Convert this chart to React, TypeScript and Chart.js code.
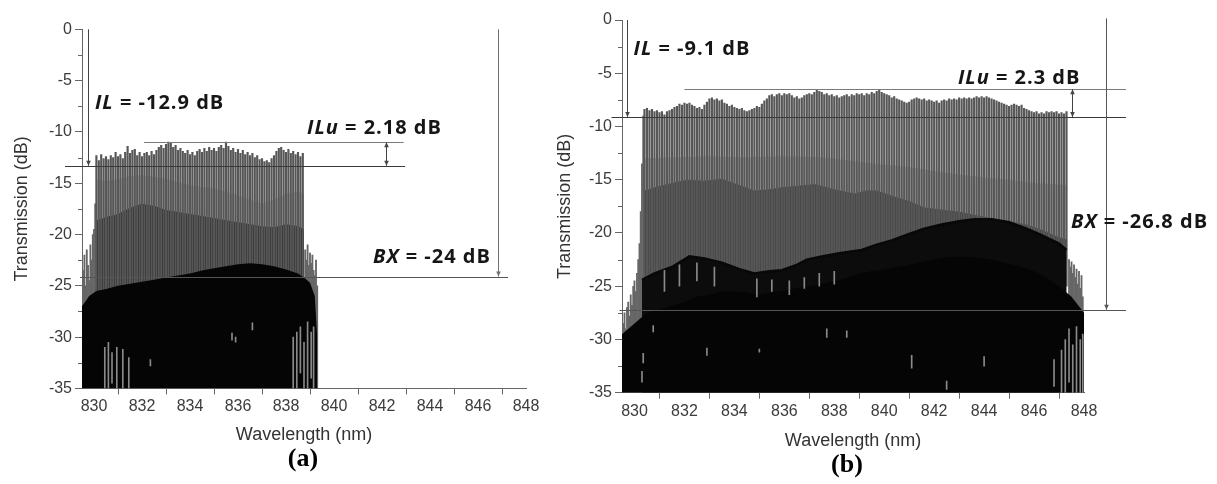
import React, { useEffect, useRef } from 'react';
import { Chart, registerables } from 'chart.js';

Chart.register(...registerables);

// ---------------- shared axis data ----------------
const xTickValues = [830, 832, 834, 836, 838, 840, 842, 844, 846, 848];
const yTickValues = [0, -5, -10, -15, -20, -25, -30, -35];
const xMinorValues = [831, 833, 835, 837, 839, 841, 843, 845, 847];
const yMinorValues = [-2.5, -7.5, -12.5, -17.5, -22.5, -27.5, -32.5];
const X_MIN = 829.5;
const X_MAX = 848;
const Y_MIN = -35;
const Y_MAX = 0;

// ---------------- panel (a) data ----------------
const peakStartA = 830.1;
const peakStepA = 0.1;
const peaksA = [
  -12.3, -12.8, -12.2, -12.6, -12.4, -12.7, -12.3, -12.5, -12.0, -12.4,
  -12.2, -12.6, -12.0, -11.4, -12.1, -11.8, -11.7, -12.3, -12.0, -12.4,
  -12.1, -12.0, -12.3, -11.9, -12.2, -11.8, -11.5, -11.3, -11.6, -11.2,
  -11.0, -11.1, -11.5, -11.3, -11.8, -11.6, -11.9, -12.1, -11.8, -12.2,
  -12.0, -12.3, -11.9, -11.7, -12.0, -11.6, -11.9, -11.5, -11.8, -11.6,
  -11.9, -11.5, -11.3, -11.6, -11.0, -11.4, -11.8, -11.6, -12.0, -11.7,
  -12.1, -11.8, -12.2, -12.0, -12.3, -12.1, -12.5, -12.3, -12.7, -12.6,
  -12.9, -12.8, -13.0, -12.6, -12.3, -11.9, -11.6, -11.5, -11.8, -12.0,
  -11.7, -12.1, -11.9, -12.2, -12.0, -12.4, -12.1,
];
const leftEdgeA: [number, number][] = [
  [829.55, -23.5], [829.6, -22.0], [829.65, -25.0], [829.7, -21.5], [829.75, -23.0],
  [829.8, -24.5], [829.85, -21.0], [829.9, -22.5], [829.95, -20.0], [830.0, -19.5], [830.05, -17.0],
];
const rightEdgeA: [number, number][] = [
  [838.8, -21.5], [838.85, -22.5], [838.9, -21.0], [838.95, -23.0], [839.0, -21.8],
  [839.05, -22.8], [839.1, -22.0], [839.15, -23.5], [839.2, -24.0], [839.25, -22.5], [839.3, -25.0],
];
const lightTopA: [number, number][] = [
  [830.1, -14.6], [830.5, -14.8], [831.0, -14.6], [831.5, -14.3], [832.0, -14.2], [832.5, -14.4],
  [833.0, -14.6], [833.5, -14.9], [834.0, -15.2], [834.5, -15.4], [835.0, -15.5], [835.5, -15.8],
  [836.0, -16.2], [836.5, -16.6], [837.0, -17.0], [837.5, -16.6], [838.0, -16.0], [838.5, -15.8], [838.75, -16.0],
];
const darkTopA: [number, number][] = [
  [830.1, -18.6], [830.5, -18.3], [831.0, -18.0], [831.5, -17.4], [832.0, -17.0], [832.5, -17.2],
  [833.0, -17.6], [833.5, -17.8], [834.0, -18.0], [834.5, -18.2], [835.0, -18.4], [835.5, -18.6],
  [836.0, -18.8], [836.5, -19.0], [837.0, -19.2], [837.5, -19.3], [838.0, -19.0], [838.5, -19.2], [838.75, -19.5],
];
const floorA: [number, number][] = [
  [829.5, -27.0], [829.8, -26.0], [830.1, -25.5], [830.5, -25.3], [831.0, -25.0], [831.5, -24.8],
  [832.0, -24.6], [832.5, -24.4], [833.0, -24.2], [833.5, -24.0], [834.0, -23.8], [834.5, -23.5],
  [835.0, -23.3], [835.5, -23.1], [836.0, -22.9], [836.5, -22.8], [837.0, -22.9], [837.5, -23.1],
  [838.0, -23.4], [838.5, -23.8], [838.8, -24.3], [839.0, -24.7], [839.2, -26.0], [839.3, -30.0],
];
const specksA: [number, number, number][] = [
  [830.45, -35, -31.0], [830.6, -35, -30.5], [830.75, -34.5, -31.5], [830.95, -35, -31.0],
  [831.2, -35, -31.2], [831.45, -35, -32.0], [832.35, -32.8, -32.2], [835.75, -30.3, -29.6],
  [835.9, -30.5, -30.0], [836.6, -29.3, -28.6], [838.3, -35, -30.0], [838.45, -35, -29.5],
  [838.6, -33.5, -29.0], [838.75, -35, -30.5], [838.9, -35, -28.5], [839.05, -34, -29.5], [839.15, -35, -29.0],
];
const ilLevelA = -13.3;
const iluLevelA = -11.0;
const bxLevelA = -24.1;

// ---------------- panel (b) data ----------------
const peakStartB = 830.4;
const peakStepB = 0.1;
const peaksB = [
  -8.4, -8.3, -8.5, -8.4, -8.6, -8.5, -8.7, -8.6, -8.9, -8.6,
  -8.5, -8.4, -8.2, -8.1, -7.9, -8.0, -7.8, -7.9, -7.8, -8.0,
  -8.1, -8.3, -8.2, -8.4, -8.0, -7.7, -7.4, -7.3, -7.5, -7.4,
  -7.6, -7.5, -7.8, -7.9, -8.1, -8.0, -8.2, -8.3, -8.4, -8.3,
  -8.5, -8.6, -8.5, -8.4, -8.3, -8.1, -8.2, -7.9, -7.6, -7.4,
  -7.1, -7.0, -7.2, -7.0, -6.9, -7.1, -6.9, -7.0, -6.9, -7.1,
  -7.3, -7.2, -7.4, -7.3, -7.1, -7.0, -6.9, -7.0, -6.8, -6.6,
  -6.7, -6.8, -7.0, -6.9, -7.1, -7.0, -7.2, -7.1, -7.3, -7.2,
  -7.1, -7.0, -7.2, -7.0, -7.1, -6.9, -7.0, -6.9, -7.1, -6.9,
  -7.0, -6.8, -6.9, -6.7, -6.6, -6.8, -6.9, -7.0, -7.1, -7.3,
  -7.2, -7.4, -7.5, -7.6, -7.7, -7.8, -7.7, -7.5, -7.4, -7.3,
  -7.4, -7.5, -7.4, -7.6, -7.5, -7.6, -7.7, -7.6, -7.8, -7.6,
  -7.5, -7.6, -7.4, -7.5, -7.4, -7.5, -7.3, -7.4, -7.3, -7.4,
  -7.3, -7.4, -7.3, -7.2, -7.3, -7.2, -7.3, -7.2, -7.3, -7.4,
  -7.5, -7.6, -7.7, -7.8, -7.9, -8.0, -8.1, -8.0, -7.9, -8.0,
  -8.1, -8.0, -8.3, -8.4, -8.5, -8.6, -8.7, -8.6, -8.8, -8.7,
  -8.8, -8.6, -8.7, -8.6, -8.7, -8.6, -8.8, -8.7, -8.8, -8.6,
];
const leftEdgeB: [number, number][] = [
  [829.55, -28.5], [829.6, -27.5], [829.65, -29.0], [829.7, -27.0], [829.75, -26.5], [829.8, -27.8],
  [829.85, -25.8], [829.9, -26.8], [829.95, -25.0], [830.0, -24.5], [830.05, -25.5], [830.1, -23.8],
  [830.15, -22.5], [830.2, -21.0], [830.25, -18.0], [830.3, -13.5], [830.35, -9.0],
];
const rightEdgeB: [number, number][] = [
  [847.4, -22.5], [847.45, -23.2], [847.5, -22.7], [847.55, -23.8], [847.6, -23.0], [847.65, -24.2],
  [847.7, -23.4], [847.75, -24.8], [847.8, -23.6], [847.85, -25.2], [847.9, -24.0], [847.95, -26.0],
];
const lightTopB: [number, number][] = [
  [830.4, -13.0], [831.5, -12.9], [833.0, -12.8], [834.5, -12.9], [836.0, -12.8], [837.5, -12.9],
  [839.0, -13.3], [840.0, -13.6], [841.0, -13.8], [842.0, -14.2], [843.0, -14.5], [844.0, -14.8],
  [845.0, -15.0], [846.0, -15.3], [847.3, -15.5],
];
const darkTopB: [number, number][] = [
  [830.4, -16.0], [831.0, -15.6], [831.5, -15.3], [832.1, -15.0], [832.8, -15.1], [833.5, -14.9],
  [834.2, -15.5], [834.8, -16.0], [835.4, -15.9], [835.9, -15.7], [836.5, -15.6], [837.2, -15.4],
  [838.0, -15.9], [838.8, -16.3], [839.3, -16.0], [839.7, -16.0], [840.3, -16.5], [841.0, -17.0],
  [841.6, -17.6], [842.3, -17.8], [843.0, -18.0], [843.6, -18.3], [844.3, -18.6], [845.0, -18.9],
  [845.7, -19.2], [846.3, -19.7], [847.0, -20.4], [847.3, -20.6],
];
const streakB: [number, number][] = [
  [830.3, -24.4], [830.8, -23.8], [831.5, -23.2], [832.2, -22.2], [832.8, -22.4], [833.5, -22.8],
  [834.2, -23.4], [834.8, -23.8], [835.4, -23.6], [835.9, -23.5], [836.5, -23.0], [836.9, -22.5],
  [837.5, -22.2], [838.2, -21.9], [839.1, -21.6], [839.7, -21.1], [840.3, -20.7], [841.0, -20.1],
  [841.6, -19.6], [842.3, -19.2], [843.0, -18.9], [843.6, -18.7], [844.3, -18.7], [845.0, -19.0],
  [845.7, -19.6], [846.3, -20.2], [847.0, -21.0], [847.3, -21.6],
];
const floorB: [number, number][] = [
  [829.5, -29.5], [830.0, -28.5], [830.5, -27.5], [831.0, -27.2], [831.5, -26.8], [832.0, -26.5],
  [832.5, -26.0], [833.0, -25.8], [833.5, -25.5], [834.0, -25.5], [834.5, -25.6], [835.0, -25.8],
  [835.5, -25.6], [836.0, -25.4], [836.5, -25.2], [837.0, -25.0], [837.5, -24.8], [838.0, -24.5],
  [838.5, -24.2], [839.0, -23.8], [839.5, -23.6], [840.0, -23.4], [840.5, -23.2], [841.0, -23.0],
  [841.5, -22.7], [842.0, -22.5], [842.5, -22.3], [843.0, -22.2], [843.5, -22.3], [844.0, -22.4],
  [844.5, -22.6], [845.0, -22.9], [845.5, -23.2], [846.0, -23.6], [846.5, -24.2], [847.0, -25.0],
  [847.5, -26.0], [848.0, -27.5],
];
const specksB: [number, number, number][] = [
  [830.3, -34.0, -33.0], [830.35, -32.2, -31.3], [830.75, -29.3, -28.7], [832.9, -31.5, -30.8],
  [835.0, -31.2, -30.9], [837.7, -29.8, -29.0], [838.5, -29.8, -29.2], [841.1, -32.7, -31.5],
  [842.5, -34.7, -33.9], [844.0, -32.5, -31.6], [846.8, -34.4, -31.9], [847.1, -35, -31.0],
  [847.25, -35, -30.0], [847.4, -34, -29.0], [847.55, -35, -30.5], [847.7, -35, -28.8],
  [847.85, -35, -30.0], [847.95, -35, -29.5], [834.9, -26.0, -24.3], [835.5, -25.5, -24.4],
  [836.2, -25.8, -24.5], [836.8, -25.2, -24.2], [837.4, -25.0, -23.8], [838.0, -24.8, -23.6],
  [831.2, -25.5, -23.5], [831.8, -25.0, -23.0], [832.5, -24.5, -22.8], [833.2, -25.0, -23.2],
];
const ilLevelB = -9.1;
const iluLevelB = -6.5;
const bxLevelB = -27.2;

// ---------------- styles / layout ----------------
const ANNOT_FONT = "'Open Sans', 'DejaVu Sans', sans-serif";
const AXIS_FONT = "'Liberation Sans', Arial, sans-serif";

const panelA = {
  peaks: peaksA, peakStart: peakStartA, peakStep: peakStepA,
  leftEdge: leftEdgeA, rightEdge: rightEdgeA,
  lightTop: lightTopA, darkTop: darkTopA, streak: null as null | [number, number][], floor: floorA, specks: specksA,
  style: {
    canvasLeft: 0, canvasWidth: 560, padTop: 29.3, padRight: 34, yAxisWidth: 82, xAxisHeight: 95.6,
    yTitlePad: 11.2, xTitlePad: 38.2, lightColor: '#c6c6c6', darkColor: '#141414', combColor: '#575757',
    combBase: -26, label: '(a)', labelDx: -1, labelY: 459,
  },
  annot: {
    lines: [
      { x1: 828.79, y1: ilLevelA, x2: 842.96, y2: ilLevelA, color: '#3a3a3a' },
      { x1: 832.08, y1: iluLevelA, x2: 842.9, y2: iluLevelA, color: '#7a7a7a' },
      { x1: 829.42, y1: bxLevelA, x2: 847.25, y2: bxLevelA, color: '#555555' },
    ],
    arrows: [
      { x: 829.75, y1: 0, y2: ilLevelA, color: '#444444', both: false },
      { x: 846.83, y1: 0, y2: bxLevelA, color: '#707070', both: false },
      { x: 842.17, y1: iluLevelA, y2: ilLevelA, color: '#444444', both: true },
    ],
    texts: [
      { x: 830.04, y: -7.18, italic: 'IL', rest: ' = -12.9 dB' },
      { x: 838.875, y: -9.62, italic: 'ILu', rest: ' = 2.18 dB' },
      { x: 841.625, y: -22.19, italic: 'BX', rest: ' = -24 dB' },
    ],
  },
};

const panelB = {
  peaks: peaksB, peakStart: peakStartB, peakStep: peakStepB,
  leftEdge: leftEdgeB, rightEdge: rightEdgeB,
  lightTop: lightTopB, darkTop: darkTopB, streak: streakB, floor: floorB, specks: specksB,
  style: {
    canvasLeft: 540, canvasWidth: 677, padTop: 20, padRight: 133, yAxisWidth: 82, xAxisHeight: 91.3,
    yTitlePad: 14.2, xTitlePad: 32.2, lightColor: '#c4c4c4', darkColor: '#3a3a3a', combColor: '#575757',
    combBase: -25, label: '(b)', labelDx: -6, labelY: 465,
  },
  annot: {
    lines: [
      { x1: 829.08, y1: ilLevelB, x2: 849.68, y2: ilLevelB, color: '#3a3a3a' },
      { x1: 832.0, y1: iluLevelB, x2: 849.68, y2: iluLevelB, color: '#7a7a7a' },
      { x1: 829.4, y1: bxLevelB, x2: 849.68, y2: bxLevelB, color: '#555555' },
    ],
    arrows: [
      { x: 829.7, y1: 0, y2: ilLevelB, color: '#444444', both: false },
      { x: 848.9, y1: 0.15, y2: bxLevelB, color: '#555555', both: false },
      { x: 847.5, y1: iluLevelB, y2: ilLevelB, color: '#444444', both: true },
    ],
    texts: [
      { x: 829.96, y: -2.72, italic: 'IL', rest: ' = -9.1 dB' },
      { x: 842.95, y: -5.45, italic: 'ILu', rest: ' = 2.3 dB' },
      { x: 847.48, y: -18.97, italic: 'BX', rest: ' = -26.8 dB' },
    ],
  },
};

// ---------------- plugin: minor ticks, annotations, panel label ----------------
const annotPlugin = {
  id: 'annot',
  afterDraw(chart: any, _args: any, opts: any) {
    const { ctx, chartArea } = chart;
    const xs = chart.scales.x;
    const ys = chart.scales.y;
    const X = (v: number) => xs.getPixelForValue(v);
    const Y = (v: number) => ys.getPixelForValue(v);
    const crisp = (p: number) => Math.round(p) + 0.5;
    ctx.save();
    // minor ticks
    ctx.strokeStyle = '#666666';
    ctx.lineWidth = 1;
    ctx.beginPath();
    for (const v of xMinorValues) {
      const px = crisp(X(v));
      ctx.moveTo(px, chartArea.bottom);
      ctx.lineTo(px, chartArea.bottom + 3.5);
    }
    for (const v of yMinorValues) {
      const py = crisp(Y(v));
      ctx.moveTo(chartArea.left - 4, py);
      ctx.lineTo(chartArea.left, py);
    }
    ctx.stroke();

    // lines
    for (const l of opts.lines) {
      ctx.strokeStyle = l.color;
      ctx.beginPath();
      ctx.moveTo(X(l.x1), crisp(Y(l.y1)));
      ctx.lineTo(X(l.x2), crisp(Y(l.y2)));
      ctx.stroke();
    }
    // arrows
    const head = (x: number, y: number, dir: number, color: string) => {
      ctx.fillStyle = color;
      ctx.beginPath();
      ctx.moveTo(x, y);
      ctx.lineTo(x - 2.3, y - dir * 5);
      ctx.lineTo(x + 2.3, y - dir * 5);
      ctx.closePath();
      ctx.fill();
    };
    for (const a of opts.arrows) {
      const px = crisp(X(a.x));
      const p1 = Y(a.y1);
      const p2 = Y(a.y2);
      ctx.strokeStyle = a.color;
      ctx.beginPath();
      ctx.moveTo(px, p1);
      ctx.lineTo(px, p2);
      ctx.stroke();
      head(px, p2, p2 > p1 ? 1 : -1, a.color);
      if (a.both) head(px, p1, p1 > p2 ? 1 : -1, a.color);
    }
    // texts
    ctx.fillStyle = '#161616';
    ctx.textBaseline = 'middle';
    ctx.textAlign = 'left';
    (ctx as any).letterSpacing = '1px';
    for (const t of opts.texts) {
      let x = X(t.x);
      const y = Y(t.y);
      ctx.font = `italic bold ${opts.fontSize}px ${ANNOT_FONT}`;
      ctx.fillText(t.italic, x, y);
      x += ctx.measureText(t.italic).width;
      ctx.font = `bold ${opts.fontSize}px ${ANNOT_FONT}`;
      ctx.fillText(t.rest, x, y);
    }
    (ctx as any).letterSpacing = '0px';
    // panel label
    ctx.font = `bold 26px 'Liberation Serif', 'Times New Roman', serif`;
    ctx.textAlign = 'center';
    ctx.fillStyle = '#000000';
    ctx.fillText(opts.label, (chartArea.left + chartArea.right) / 2 + opts.labelDx, opts.labelY);
    ctx.restore();
  },
};

// ---------------- chart config ----------------
function buildConfig(p: any) {
  const s = p.style;
  const pairs = (arr: [number, number][]) => arr.map(([x, y]) => ({ x, y }));
  const combData = p.peaks.map((v: number, i: number) => ({
    x: Math.round((p.peakStart + i * p.peakStep) * 100) / 100,
    y: [s.combBase, v],
  }));
  const edgeData = [...p.leftEdge, ...p.rightEdge].map(([x, y]: [number, number]) => ({ x, y: [Y_MIN, y] }));
  const speckData = p.specks.map(([x, lo, hi]: [number, number, number]) => ({ x, y: [lo, hi] }));

  const fillDs = (data: any[], color: string, order: number) => ({
    type: 'line',
    data,
    order,
    borderColor: 'rgba(0,0,0,0)',
    borderWidth: 0,
    backgroundColor: color,
    pointRadius: 0,
    fill: 'start',
    tension: 0,
  });
  const barDs = (data: any[], color: string, order: number, thick: number) => ({
    type: 'bar',
    data,
    order,
    grouped: false,
    backgroundColor: color,
    borderWidth: 0,
    barThickness: thick,
  });

  const datasets: any[] = [
    barDs(speckData, '#8a8a8a', 0, 1),
    fillDs(pairs(p.floor), '#050505', 1),
    barDs(combData, s.combColor, 4, 1.5),
    barDs(edgeData, '#666666', 4, 1.2),
    fillDs(pairs(p.darkTop), s.darkColor, 6),
    fillDs(pairs(p.lightTop), s.lightColor, 7),
  ];
  if (p.streak) {
    datasets.push({
      type: 'line', data: pairs(p.streak), order: 2, borderColor: '#080808', borderWidth: 2.5,
      pointRadius: 0, fill: false, tension: 0,
    });
    datasets.push(fillDs(pairs(p.streak), '#0c0c0c', 3));
  }

  return {
    type: 'line',
    data: { datasets },
    plugins: [annotPlugin],
    options: {
      animation: false,
      responsive: false,
      maintainAspectRatio: false,
      events: [],
      layout: { padding: { top: s.padTop, right: s.padRight, bottom: 0, left: 0 } },
      plugins: {
        legend: { display: false },
        tooltip: { enabled: false },
        annot: { ...p.annot, fontSize: 20, label: s.label, labelDx: s.labelDx, labelY: s.labelY },
      },
      scales: {
        x: {
          type: 'linear', min: X_MIN, max: X_MAX, offset: false,
          afterBuildTicks: (sc: any) => { sc.ticks = xTickValues.map((v) => ({ value: v })); },
          afterFit: (sc: any) => { sc.height = s.xAxisHeight; },
          ticks: { color: '#3c3c3c', font: { family: AXIS_FONT, size: 16 }, padding: 3, maxRotation: 0, autoSkip: false },
          grid: { display: true, drawOnChartArea: false, drawTicks: true, tickLength: 6, color: '#666666' },
          border: { display: true, color: '#666666', width: 1 },
          title: { display: true, text: 'Wavelength (nm)', color: '#333333', font: { family: AXIS_FONT, size: 18 }, padding: { top: 0, bottom: s.xTitlePad } },
        },
        y: {
          type: 'linear', min: Y_MIN, max: Y_MAX,
          afterBuildTicks: (sc: any) => { sc.ticks = yTickValues.map((v) => ({ value: v })); },
          afterFit: (sc: any) => { sc.width = s.yAxisWidth; },
          ticks: { color: '#3c3c3c', font: { family: AXIS_FONT, size: 16 }, padding: 3, autoSkip: false },
          grid: { display: true, drawOnChartArea: false, drawTicks: true, tickLength: 7, color: '#666666' },
          border: { display: true, color: '#666666', width: 1 },
          title: { display: true, text: 'Transmission (dB)', color: '#333333', font: { family: AXIS_FONT, size: 18 }, padding: { top: s.yTitlePad, bottom: 0 } },
        },
      },
    },
  };
}

function Panel({ panel }: { panel: any }) {
  const ref = useRef<HTMLCanvasElement>(null);
  useEffect(() => {
    if (!ref.current) return;
    const chart = new Chart(ref.current, buildConfig(panel) as any);
    return () => chart.destroy();
  }, [panel]);
  const s = panel.style;
  return (
    <canvas
      ref={ref}
      width={s.canvasWidth}
      height={484}
      style={{ position: 'absolute', left: s.canvasLeft, top: 0, width: s.canvasWidth, height: 484 }}
    />
  );
}

export default function App() {
  return (
    <div style={{ position: 'absolute', left: 0, top: 0, width: 1217, height: 484, background: '#ffffff', overflow: 'hidden' }}>
      <Panel panel={panelA} />
      <Panel panel={panelB} />
    </div>
  );
}
